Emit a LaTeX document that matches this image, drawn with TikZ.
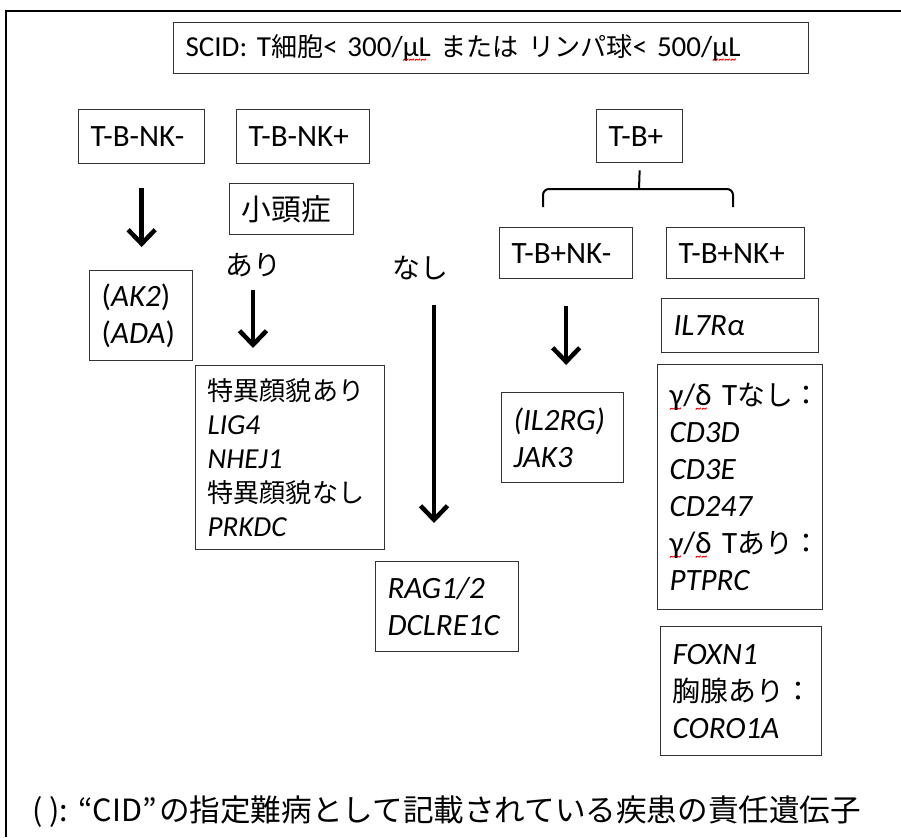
\documentclass[tikz,border=0pt]{standalone}
\usepackage{fontspec}
\setmainfont{Carlito}
\newfontfamily\jpfont[Scale=0.9]{Noto Sans CJK JP}
\usetikzlibrary{arrows.meta}

\newcommand{\ja}[1]{{\jpfont #1}}
\newcommand{\spellwave}[1]{\leavevmode\setbox0=\hbox{#1}%
  \rlap{\raisebox{-7pt}[0pt][0pt]{\color{red}\fontsize{12}{12}\selectfont\bfseries\leaders\hbox{\textasciitilde}\hskip\wd0}}\box0\relax}
\newcommand{\fwquote}[3]{\makebox[#1em][#2]{#3}}

\begin{document}
\begin{tikzpicture}[x=1pt, y=-1pt,
    gbox/.style={draw=black!80, line width=1.3pt, anchor=north west, inner xsep=12pt,
      inner ysep=0pt, align=left, font=\fontsize{31}{37}\selectfont},
    glabel/.style={inner sep=0pt, font=\fontsize{31}{37}\selectfont},
    garrow/.style={line width=4.5pt, -{Straight Barb[length=14pt,width=27pt]}},
    gbrace/.style={line width=2pt, rounded corners=6pt}]
  \useasboundingbox (0,0) rectangle (901,837);

  % Frame
    \draw[line width=2pt] (901,11) -- (6,11) -- (6,837);

  % Title
    \node[gbox, text width=611pt, minimum height=51pt, font=\fontsize{29}{35}\selectfont] (title) at (173,22)
      {\mbox{SCID: T\ja{細胞}< 300/\spellwave{μL} \ja{または} \ja{リンパ球}< 500/\spellwave{μL}}};

  % First level
    \node[gbox, text width=102pt, minimum height=54pt] (tbnkm) at (78,109) {T-B-NK-};
    \node[gbox, text width=109pt, minimum height=54pt] (tbnkp) at (236,109) {T-B-NK+};
    \node[gbox, text width=62pt, minimum height=53pt] (tbp) at (596,109) {T-B+};

  % T-B-NK- branch
    \node[gbox, text width=79pt, minimum height=90pt] (ak) at (89,270)
      {(\textit{AK2})\\(\textit{ADA})};
    \draw[garrow, shorten <=24pt, shorten >=23pt] (tbnkm.south) -- (tbnkm.south |- ak.north);

  % T-B-NK+ branch
    \node[gbox, text width=100pt, minimum height=51pt, font=\fontsize{33}{37}\selectfont] (shotou) at (229,183) {\ja{小頭症}};
    \node[glabel] (ari) at (253,265) {\ja{あり}};
    \node[glabel] (nashi) at (420,268) {\ja{なし}};
    \node[gbox, text width=165pt, minimum height=184pt, font=\fontsize{29}{34}\selectfont] (tokui) at (195,365)
      {\ja{特異顔貌あり}\\\textit{LIG4}\\\textit{NHEJ1}\\\ja{特異顔貌なし}\\\textit{PRKDC}};
    \node[gbox, text width=119pt, minimum height=90pt] (rag) at (375,561)
      {\textit{RAG1/2}\\\textit{DCLRE1C}};
    \coordinate (nashiarrow) at ([xshift=14pt]nashi.center);
    \draw[garrow, shorten <=25pt, shorten >=17pt] (ari.center) -- (ari.center |- tokui.north);
    \draw[garrow, shorten <=37pt, shorten >=38pt] (nashiarrow) -- (nashiarrow |- rag.north);

  % T-B+ branch
    \node[gbox, text width=109pt, minimum height=51pt] (tbpnkm) at (499,227) {T-B+NK-};
    \node[gbox, text width=114pt, minimum height=51pt] (tbpnkp) at (666,227) {T-B+NK+};
    \coordinate (brtop) at ([yshift=-7pt]tbp.south);
    \coordinate (brmid) at (639,189);
    \coordinate (brL) at (543,207);
    \coordinate (brR) at (733,207);
    \draw[line width=2pt] (brtop) -- (brmid);
    \draw[gbrace] (brL) -- (brL |- brmid) -- (brR |- brmid) -- (brR);

    \node[gbox, text width=98pt, minimum height=90pt] (il2) at (501,392)
      {\textit{(IL2RG)}\\\textit{JAK3}};
    \draw[garrow, shorten <=27pt, shorten >=27pt] (tbpnkm.south) -- (tbpnkm.south |- il2.north);

    \node[gbox, text width=133pt, minimum height=54pt] (il7) at (661,298) {\textit{IL7Rα}};
    \node[gbox, text width=141pt, minimum height=245pt] (gd) at (657,364)
      {\mbox{\spellwave{γ}/\spellwave{δ} T\ja{なし：}}\\\textit{CD3D}\\\textit{CD3E}\\\textit{CD247}\\
       \mbox{\spellwave{γ}/\spellwave{δ} T\ja{あり：}}\\\textit{PTPRC}};
    \node[gbox, text width=137pt, minimum height=129pt] (foxn) at (660,626)
      {\textit{FOXN1}\\\ja{胸腺あり：}\\\textit{CORO1A}};

  % Note
    \node[anchor=west, inner sep=0pt, font=\fontsize{34}{34}\selectfont\jpfont] (note) at (32,812)
      {( ):\fwquote{0.8}{r}{“}CID\fwquote{0.55}{l}{”}の指定難病として記載されている疾患の責任遺伝子};

\end{tikzpicture}
\end{document}
